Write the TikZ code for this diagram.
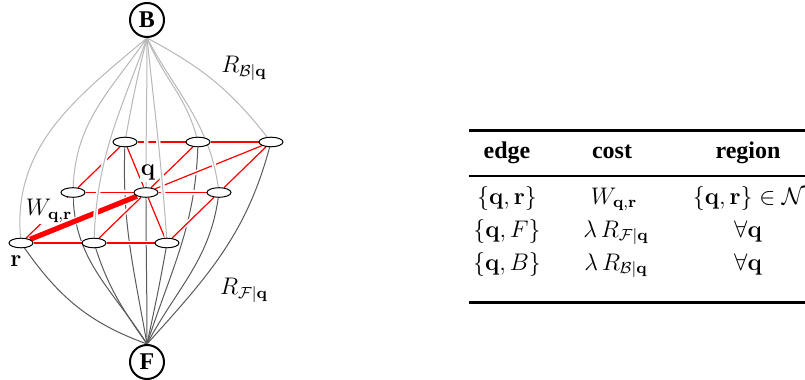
\documentclass[tikz,border=0pt,12pt]{standalone}
\usepackage{amsmath,amssymb}
\usepackage[no-math]{fontspec}
\setmainfont{Liberation Serif}
\usetikzlibrary{shapes.geometric,backgrounds}

\begin{document}
\begin{tikzpicture}[
    x=0.5pt, y=-0.5pt,
    term/.style={circle, draw, line width=1pt, minimum size=17pt, inner sep=0pt, font=\bfseries},
    pix/.style={ellipse, draw, fill=white, line width=0.5pt, minimum width=12pt, minimum height=4.8pt, inner sep=0pt},
    cutout/.style={draw=white, line width=2.2pt},
    nbr/.style={red, line width=0.6pt},
    wnbr/.style={red, line width=2.6pt},
    srcarc/.style={black!28, line width=0.5pt},
    snkarc/.style={black!65, line width=0.5pt},
    lbl/.style={fill=white, inner sep=0.5pt},
    hd/.style={font=\bfseries, anchor=base},
    cell/.style={anchor=base},
    thickrule/.style={line width=1.5pt},
    thinrule/.style={line width=1pt}
  ]
  \useasboundingbox (0,0) rectangle (805,380);

  % terminals
  \node[term] (src) at (147,20) {B};
  \node[term] (snk) at (147,362) {F};

  % pixels on a 3x3 grid, seen in perspective
  \foreach \i in {0,1,2}
    \foreach \j in {0,1,2}
      \node[pix] (n\i\j) at ({21+73*\i+52*\j},{243-50.5*\j}) {};

  \begin{scope}[on background layer]
    % t-links to the sink
    \foreach \n/\o/\t in {00/-55/160, 10/-72/125, 20/-100/78, 01/-88/122, 11/-90/90,
                          21/-98/62, 02/-92/100, 12/-92/72, 22/-105/48}
      \draw[snkarc] (n\n) to[out=\o, in=\t] (snk.north);

    % n-links
    \foreach \s in {cutout, nbr} {
      \foreach \i [evaluate=\i as \k using int(\i+1)] in {0,1}
        \foreach \j in {0,1,2}
          \draw[\s] (n\i\j) -- (n\k\j);
      \foreach \j [evaluate=\j as \k using int(\j+1)] in {0,1}
        \foreach \i in {0,1,2}
          \draw[\s] (n\i\j) -- (n\i\k);
      \foreach \n in {02,22,20}
        \draw[\s] (n11) -- (n\n);
    }
    \node[lbl] (wlbl) at (49,211) {$W_{\mathbf{q},\mathbf{r}}$};
    \draw[cutout, line width=3.6pt] (n11) -- (n00);
    \draw[wnbr] (n11) -- (n00);

    % t-links to the source
    \foreach \s in {cutout, srcarc}
      \foreach \n/\o/\t in {00/-140/95, 10/-110/88, 20/-84/94, 01/-125/88, 11/-90/90,
                            21/-62/98, 02/-104/80, 12/-68/105, 22/-28/128}
        \draw[\s] (src.south) to[out=\o, in=\t] (n\n);
  \end{scope}

  % labels
  \node[lbl] (qlbl) at (148,173) {$\mathbf{q}$};
  \node (rlbl) at (16,261) {$\mathbf{r}$};
  \node (rblbl) at (244,68) {$R_{\mathcal{B}|\mathbf{q}}$};
  \node (rflbl) at (244,290) {$R_{\mathcal{F}|\mathbf{q}}$};

  % table of edge costs
  \draw[thickrule] (469,130) -- (812,130);
  \draw[thinrule] (469,176) -- (812,176);
  \draw[thickrule] (469,302) -- (812,302);
  \node[hd] (hedge) at (507,158) {edge};
  \node[hd] (hcost) at (612,158) {cost};
  \node[hd] (hreg) at (748,158) {region};
  \node[cell] (e1) at (507,204) {$\{\mathbf{q},\mathbf{r}\}$};
  \node[cell] (c1) at (614,204) {$W_{\mathbf{q},\mathbf{r}}$};
  \node[cell] (g1) at (749,204) {$\{\mathbf{q},\mathbf{r}\}\in\mathcal{N}$};
  \node[cell] (e2) at (507,237) {$\{\mathbf{q},F\}$};
  \node[cell] (c2) at (616,237) {$\lambda\,R_{\mathcal{F}|\mathbf{q}}$};
  \node[cell] (g2) at (748,237) {$\forall\mathbf{q}$};
  \node[cell] (e3) at (507,270) {$\{\mathbf{q},B\}$};
  \node[cell] (c3) at (616,270) {$\lambda\,R_{\mathcal{B}|\mathbf{q}}$};
  \node[cell] (g3) at (748,270) {$\forall\mathbf{q}$};
\end{tikzpicture}
\end{document}
